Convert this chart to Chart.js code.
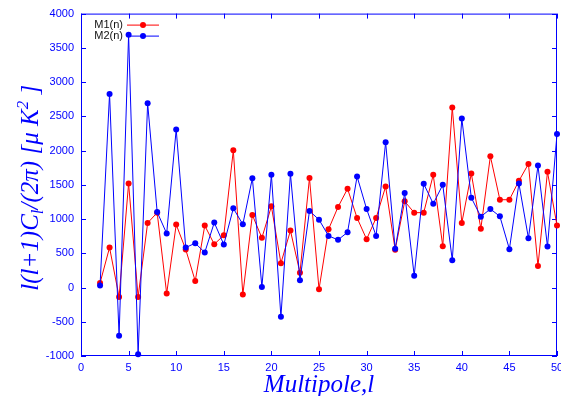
<!DOCTYPE html>
<html>
<head>
<meta charset="utf-8">
<script src="https://cdn.jsdelivr.net/npm/chart.js@4/dist/chart.umd.min.js"></script>
<style>
  html, body { margin: 0; padding: 0; background: #fff; }
</style>
</head>
<body>
<canvas id="chart" width="561" height="396"></canvas>
<script>
// multipole l for each point
const multipole = [2, 3, 4, 5, 6, 7, 8, 9, 10, 11, 12, 13, 14, 15, 16, 17, 18, 19, 20, 21, 22, 23, 24, 25, 26,
  27, 28, 29, 30, 31, 32, 33, 34, 35, 36, 37, 38, 39, 40, 41, 42, 43, 44, 45, 46, 47, 48, 49, 50];

// l(l+1)C_l/(2pi) in micro K^2
const m1Values = [65, 584, -138, 1519, -138, 943, 1093, -89, 919, 555, 95, 904, 632, 763, 2004, -103, 1059, 725,
  1185, 356, 831, 216, 1601, -26, 850, 1176, 1442, 1016, 705, 1016, 1475, 551, 1258, 1093, 1093, 1645, 603, 2629,
  943, 1664, 860, 1917, 1282, 1282, 1558, 1805, 313, 1689, 904];
const m2Values = [28, 2827, -705, 3690, -975, 2692, 1103, 788, 2309, 584, 647, 512, 948, 628, 1156, 923, 1597, 8,
  1645, -428, 1660, 105, 1118, 991, 754, 696, 807, 1621, 1147, 754, 2121, 565, 1379, 173, 1514, 1224, 1500, 400,
  2469, 1311, 1035, 1147, 1039, 560, 1519, 720, 1781, 599, 2241];

const xTickValues = [0, 5, 10, 15, 20, 25, 30, 35, 40, 45, 50];
const yTickValues = [-1000, -500, 0, 500, 1000, 1500, 2000, 2500, 3000, 3500, 4000];

const seriesNames = ["M1(n)", "M2(n)"];
const RED = "#ff0000";
const BLUE = "#0000ff";

const toPoints = (vals) => multipole.map((l, i) => ({ x: l, y: vals[i] }));

// frame with inward ticks, legend and the axis titles (gnuplot look)
const gnuplotFrame = {
  id: "gnuplotFrame",
  beforeDatasetsDraw(chart) {
    const { ctx, chartArea: a, scales } = chart;
    const tick = 5;
    ctx.save();
    ctx.strokeStyle = BLUE;
    ctx.lineWidth = 1;
    ctx.strokeRect(a.left + 0.5, a.top + 0.5, a.right - a.left - 1, a.bottom - a.top - 1);
    ctx.beginPath();
    scales.x.ticks.forEach((t) => {
      const px = Math.round(scales.x.getPixelForValue(t.value)) + 0.5;
      ctx.moveTo(px, a.bottom); ctx.lineTo(px, a.bottom - tick);
      ctx.moveTo(px, a.top); ctx.lineTo(px, a.top + tick);
    });
    scales.y.ticks.forEach((t) => {
      const py = Math.round(scales.y.getPixelForValue(t.value)) + 0.5;
      ctx.moveTo(a.left, py); ctx.lineTo(a.left + tick, py);
      ctx.moveTo(a.right, py); ctx.lineTo(a.right - tick, py);
    });
    ctx.stroke();

    // legend, top left inside the plot
    const colors = [RED, BLUE];
    ctx.font = '11px "Liberation Sans", Arial, sans-serif';
    ctx.textBaseline = "middle";
    ctx.textAlign = "right";
    seriesNames.forEach((name, i) => {
      const y = a.top + 11 + i * 11;
      ctx.fillStyle = "#111";
      ctx.fillText(name, a.left + 42, y);
      ctx.strokeStyle = colors[i];
      ctx.beginPath();
      ctx.moveTo(a.left + 46, y + 0.5); ctx.lineTo(a.left + 78, y + 0.5);
      ctx.stroke();
      ctx.fillStyle = colors[i];
      ctx.beginPath();
      ctx.arc(a.left + 62, y + 0.5, 3, 0, Math.PI * 2);
      ctx.fill();
    });

    // x title
    ctx.fillStyle = BLUE;
    ctx.textAlign = "center";
    ctx.textBaseline = "alphabetic";
    ctx.font = 'italic 25px "Liberation Serif", "Times New Roman", serif';
    ctx.fillText("Multipole,l", (a.left + a.right) / 2, 392);

    // y title, rotated, with sub and superscript
    const big = 'italic 25px "Liberation Serif", "Times New Roman", serif';
    const small = 'italic 17px "Liberation Serif", "Times New Roman", serif';
    const parts = [
      { t: "l(l+1)C", f: big, dy: 0 },
      { t: "l", f: small, dy: 5 },
      { t: "/(2\u03c0) [\u03bc K", f: big, dy: 0 },
      { t: "2", f: small, dy: -10 },
      { t: " ]", f: big, dy: 0 },
    ];
    let total = 0;
    parts.forEach((p) => { ctx.font = p.f; p.w = ctx.measureText(p.t).width; total += p.w; });
    ctx.translate(38, (a.top + a.bottom) / 2 + 3);
    ctx.rotate(-Math.PI / 2);
    ctx.textAlign = "left";
    let x = -total / 2;
    parts.forEach((p) => {
      ctx.font = p.f;
      ctx.fillText(p.t, x, p.dy);
      x += p.w;
    });
    ctx.restore();
  },
};

new Chart(document.getElementById("chart"), {
  type: "line",
  data: {
    datasets: [
      {
        label: seriesNames[0],
        data: toPoints(m1Values),
        borderColor: RED,
        backgroundColor: RED,
        borderWidth: 1,
        pointRadius: 3,
        pointBorderWidth: 0,
        tension: 0,
        clip: false,
        order: 1,
      },
      {
        label: seriesNames[1],
        data: toPoints(m2Values),
        borderColor: BLUE,
        backgroundColor: BLUE,
        borderWidth: 1,
        pointRadius: 3,
        pointBorderWidth: 0,
        tension: 0,
        clip: false,
        order: 0,
      },
    ],
  },
  options: {
    responsive: false,
    animation: false,
    layout: { padding: { top: 12, left: 0, right: 0, bottom: 0 } },
    plugins: { legend: { display: false }, tooltip: { enabled: false } },
    scales: {
      x: {
        type: "linear",
        min: 0,
        max: 50,
        afterBuildTicks: (scale) => { scale.ticks = xTickValues.map((v) => ({ value: v })); },
        afterFit: (scale) => { scale.height = 40; scale.paddingRight = 4; scale.paddingLeft = 0; },
        grid: { display: false, drawTicks: false },
        border: { display: false },
        ticks: {
          color: BLUE,
          padding: 5,
          maxRotation: 0,
          autoSkip: false,
          callback: (v) => String(v),
          font: { family: '"Liberation Sans", Arial, sans-serif', size: 11 },
        },
      },
      y: {
        min: -1000,
        max: 4000,
        afterBuildTicks: (scale) => { scale.ticks = yTickValues.map((v) => ({ value: v })); },
        afterFit: (scale) => { scale.width = 81; },
        grid: { display: false, drawTicks: false },
        border: { display: false },
        ticks: {
          color: BLUE,
          padding: 7,
          autoSkip: false,
          callback: (v) => String(v),
          font: { family: '"Liberation Sans", Arial, sans-serif', size: 11 },
        },
      },
    },
  },
  plugins: [gnuplotFrame],
});
</script>
</body>
</html>
